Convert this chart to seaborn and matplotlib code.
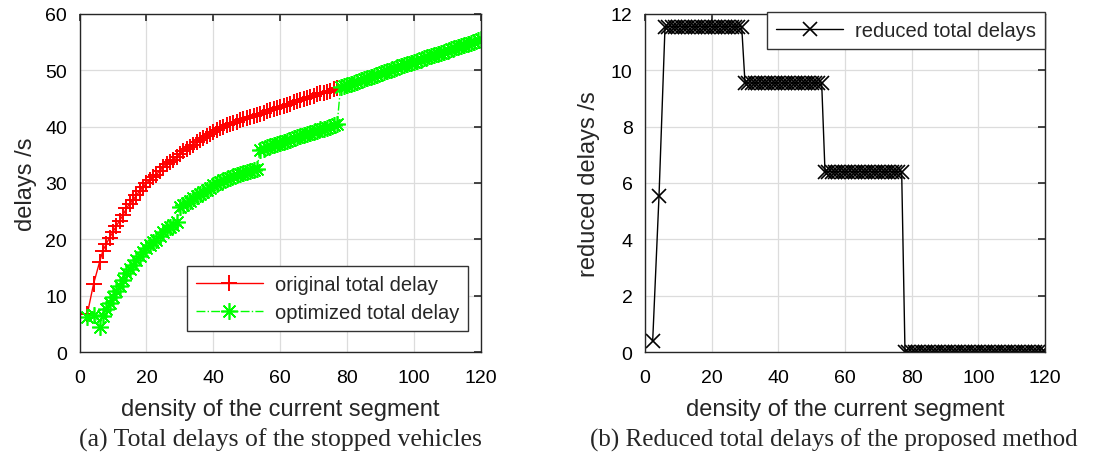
import numpy as np
import pandas as pd
import matplotlib
matplotlib.use("Agg")
import matplotlib.pyplot as plt
import seaborn as sns

# ---- data ----
density = [2.3, 4.2] + list(range(6, 121))

# original total delay, defined up to density 77
original = [6.7, 12.1,
            16.0, 18.0, 19.2, 20.3, 21.3, 22.4, 23.3, 24.3, 25.5, 26.3,
            27.0, 27.8, 28.6, 29.3, 30.0, 30.5, 31.0, 31.5, 32.2, 32.8,
            33.3, 33.7, 34.1, 34.6, 35.2, 35.6, 36.0, 36.4, 36.8, 37.2,
            37.6, 37.9, 38.3, 38.7, 39.1, 39.4, 39.7, 40.0, 40.2, 40.5,
            40.7, 40.9, 41.1, 41.3, 41.5, 41.7, 41.9, 42.1, 42.3, 42.5,
            42.7, 42.9, 43.1, 43.3, 43.5, 43.7, 43.9, 44.1, 44.3, 44.5,
            44.7, 44.9, 45.1, 45.3, 45.5, 45.7, 45.9, 46.0, 46.2, 46.4,
            46.6, 46.8]

# reduced total delays for every density
reduced = ([0.4, 5.55] + [11.55] * 24 + [9.55] * 24 + [6.4] * 24 + [0.0] * 43)

# optimized total delay beyond density 77 (equal to original there)
optimized_tail = [47.0, 47.2, 47.4, 47.6, 47.8, 48.0, 48.2, 48.4, 48.6, 48.8,
                  49.0, 49.2, 49.5, 49.7, 49.9, 50.1, 50.3, 50.5, 50.7, 50.9,
                  51.1, 51.3, 51.5, 51.7, 51.9, 52.1, 52.3, 52.5, 52.7, 52.9,
                  53.1, 53.3, 53.5, 53.7, 53.9, 54.1, 54.3, 54.5, 54.7, 54.9,
                  55.1, 55.3, 55.5]

n_orig = len(original)
optimized = [o - r for o, r in zip(original, reduced[:n_orig])] + optimized_tail

df_orig = pd.DataFrame({"density": density[:n_orig], "delay": original})
df_opt = pd.DataFrame({"density": density, "delay": optimized})
df_red = pd.DataFrame({"density": density, "reduced": reduced})

xticks = [0, 20, 40, 60, 80, 100, 120]
yticks_a = [0, 10, 20, 30, 40, 50, 60]
yticks_b = [0, 2, 4, 6, 8, 10, 12]

# ---- style ----
sns.set_style("white")
sans = ["Liberation Sans Narrow", "Liberation Sans", "DejaVu Sans"]
plt.rcParams["font.family"] = sans
plt.rcParams["axes.unicode_minus"] = False

fig = plt.figure(figsize=(10.94, 4.6), dpi=100)
ax1 = fig.add_axes([0.0727, 0.2326, 0.367, 0.735])
ax2 = fig.add_axes([0.5896, 0.2326, 0.3656, 0.735])

red, green = "#ff0000", "#00ff00"
sns.lineplot(data=df_orig, x="density", y="delay", ax=ax1, color=red,
             marker="+", markersize=12, markeredgewidth=1.4,
             markeredgecolor=red, markerfacecolor=red, linewidth=1.0,
             label="original total delay", sort=False, estimator=None)
sns.lineplot(data=df_opt, x="density", y="delay", ax=ax1, color=green,
             marker=(8, 2, 0), markersize=12, markeredgewidth=1.2,
             markeredgecolor=green, markerfacecolor=green, linewidth=1.0,
             linestyle="-.", label="optimized total delay", sort=False,
             estimator=None)
sns.lineplot(data=df_red, x="density", y="reduced", ax=ax2, color="black",
             marker="x", markersize=10, markeredgewidth=1.2,
             markeredgecolor="black", markerfacecolor="black", linewidth=1.0,
             label="reduced total delays", sort=False, estimator=None)

for ax, yt in ((ax1, yticks_a), (ax2, yticks_b)):
    ax.set_xlim(0, 120)
    ax.set_xticks(xticks)
    ax.set_ylim(yt[0], yt[-1])
    ax.set_yticks(yt)
    ax.grid(True, color="#dcdcdc", linewidth=0.9)
    ax.set_axisbelow(True)
    ax.tick_params(direction="in", length=5, width=1.2, top=True, right=True,
                   labelsize=14, colors="#262626", labelcolor="black")
    ax.tick_params(axis="x", pad=12)
    ax.tick_params(axis="y", pad=9)
    for s in ax.spines.values():
        s.set_color("#262626")
        s.set_linewidth(1.0)
    ax.set_xlabel("density of the current segment", fontsize=17, labelpad=9)

ax1.set_ylabel("delays /s", fontsize=17, labelpad=6)
ax2.set_ylabel("reduced delays /s", fontsize=17, labelpad=8)

leg_font = {"family": ["Liberation Sans", "DejaVu Sans"], "size": 14.5}
leg1 = ax1.legend(loc="lower right", bbox_to_anchor=(0.968, 0.062),
                  prop=leg_font, fancybox=False, framealpha=1,
                  edgecolor="#333333", handlelength=3.3, borderpad=0.45,
                  labelspacing=0.45, handletextpad=0.6, borderaxespad=0)
leg1.get_frame().set_linewidth(1.0)
leg2 = ax2.legend(loc="upper right", bbox_to_anchor=(1.0, 1.005), prop=leg_font,
                  fancybox=False, framealpha=1, edgecolor="#333333",
                  handlelength=3.3, borderpad=0.45, borderaxespad=0,
                  handletextpad=0.6)
leg2.get_frame().set_linewidth(1.0)

serif = ["Liberation Serif", "DejaVu Serif"]
fig.text(0.256, 0.043, "(a) Total delays of the stopped vehicles",
         ha="center", va="center", fontsize=18.5, family=serif)
fig.text(0.762, 0.043, "(b) Reduced total delays of the proposed method",
         ha="center", va="center", fontsize=18, family=serif)

fig.savefig("out.png", dpi=100)
